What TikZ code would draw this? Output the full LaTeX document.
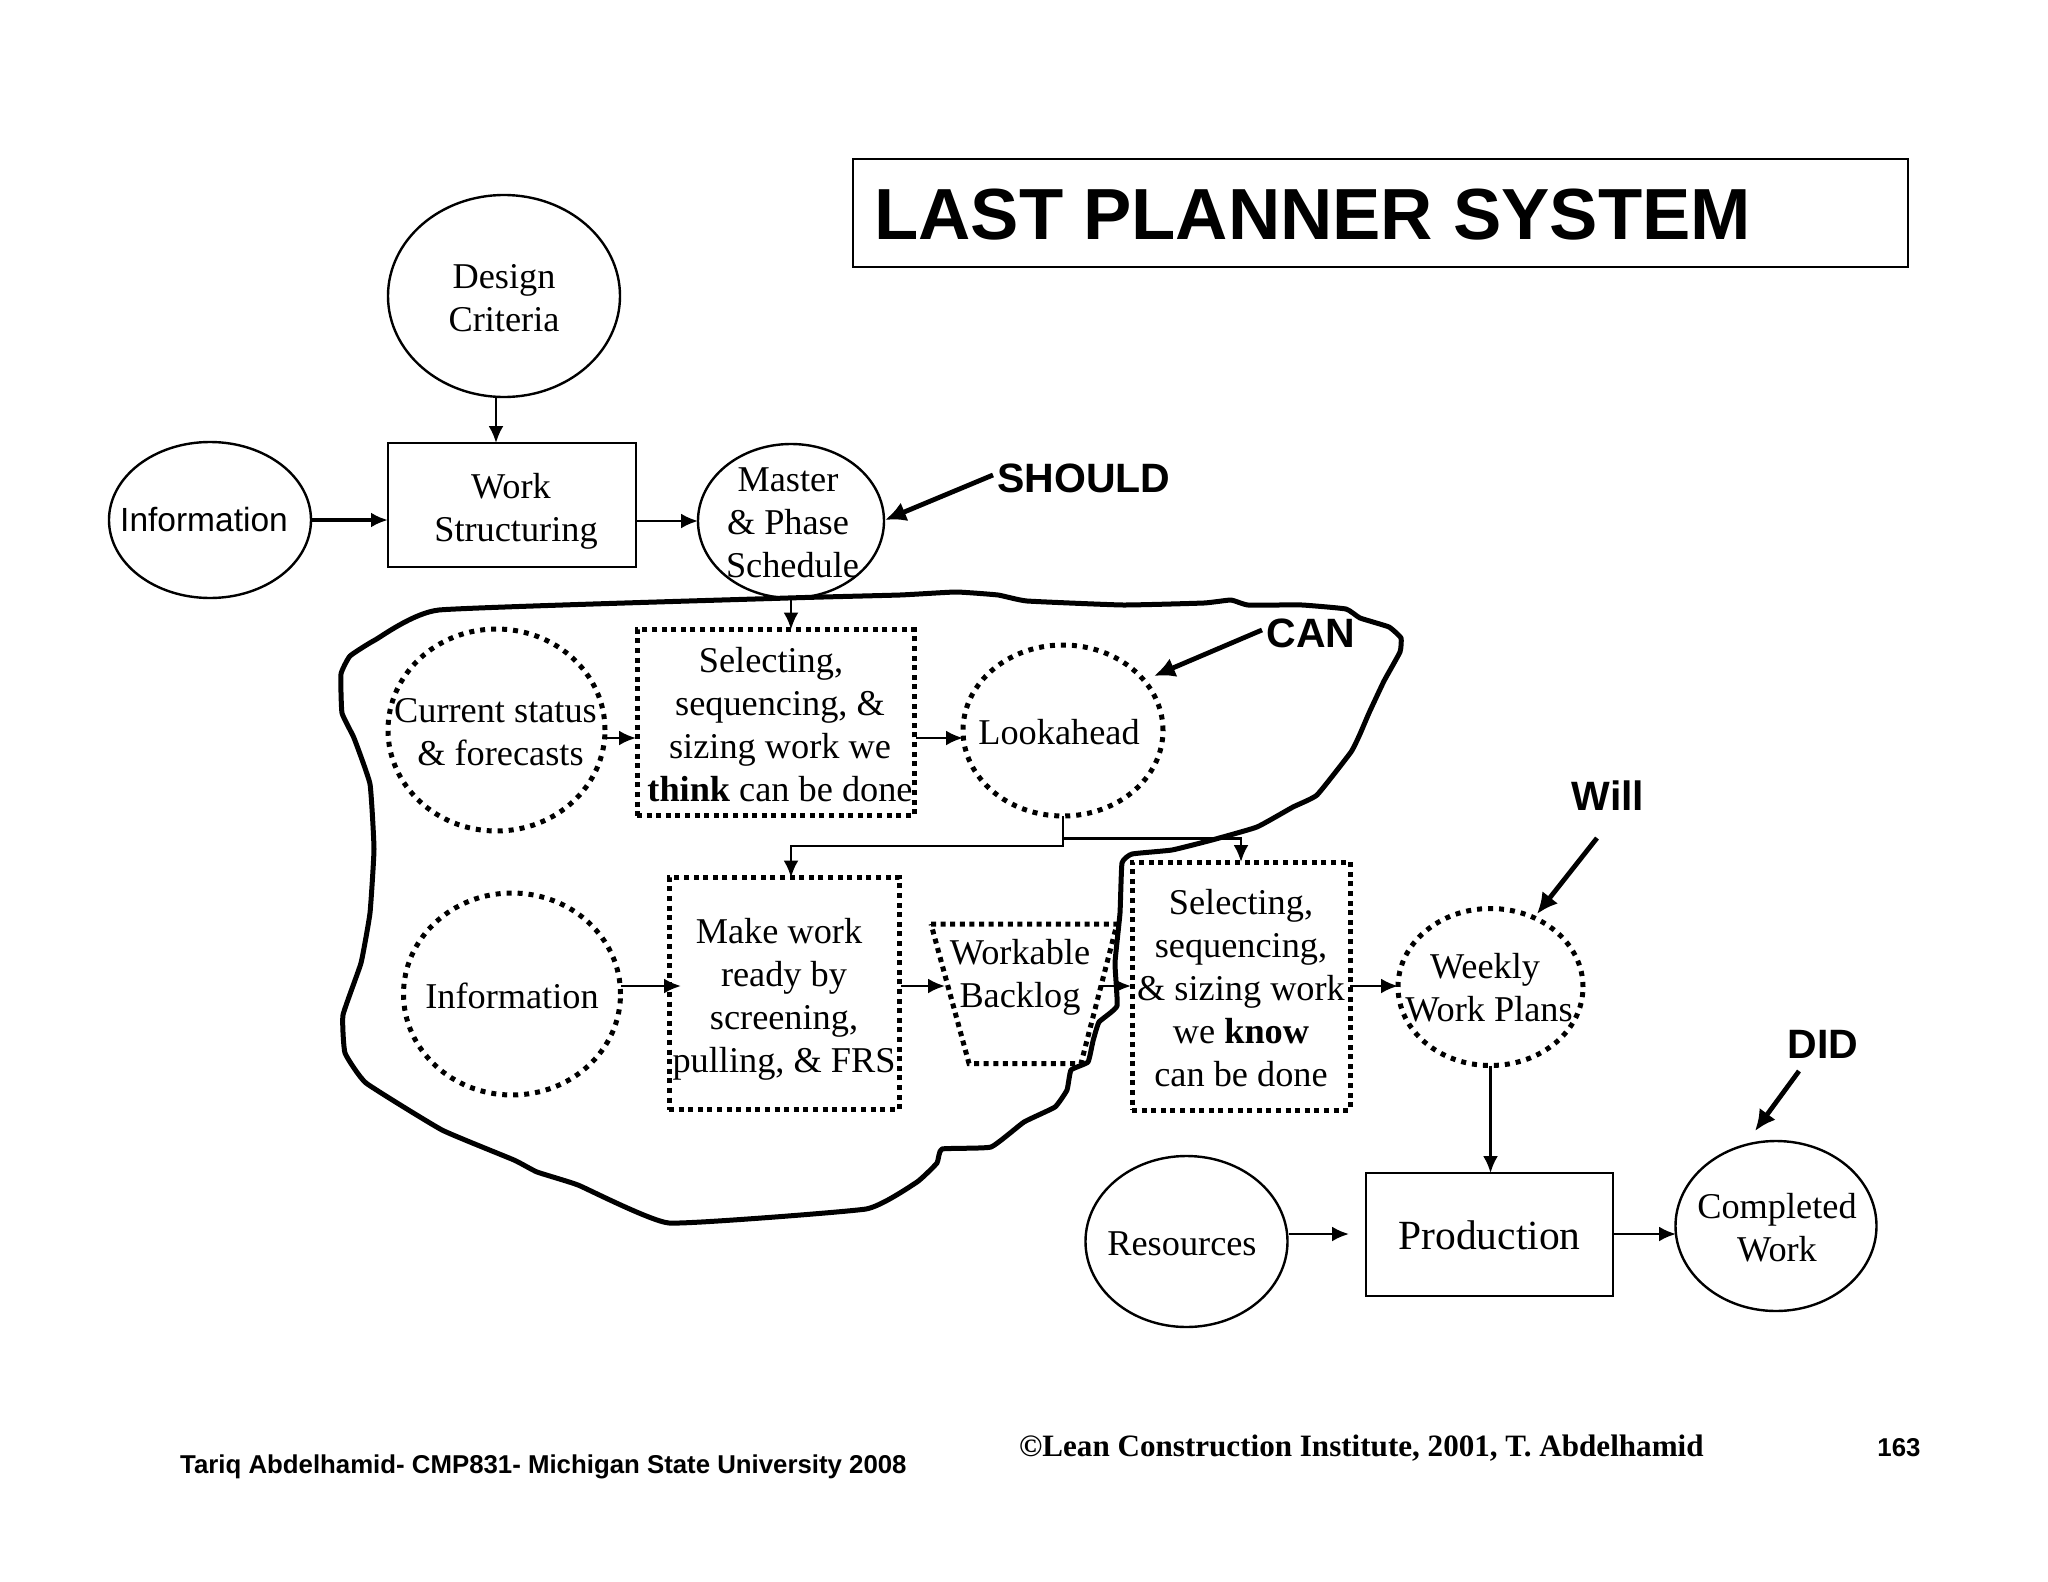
\documentclass[tikz,border=0pt]{standalone}
\usepackage{fontspec}
\setmainfont{Liberation Serif}
\setsansfont{Liberation Sans}
\usetikzlibrary{shapes.geometric,arrows.meta}
\tikzset{
  x=1bp,y=-1bp,
  thinline/.style={draw=black,line width=2.4bp},
  dotline/.style={draw=black,line width=5bp,dash pattern=on 5bp off 4.6bp},
  dotoval/.style={draw=black,line width=5bp,dash pattern=on 5bp off 6bp},
  oval/.style={ellipse,inner sep=0pt,outer sep=0pt},
  box/.style={rectangle,inner sep=0pt,outer sep=0pt},
  arr/.style={draw=black,line width=2.6bp,-{Latex[length=17bp,width=15bp]}},
  heavyarr/.style={draw=black,line width=4.8bp,-{Latex[length=21bp,width=20bp]}},
  txt/.style={align=center,inner sep=0pt,font=\fontsize{36.3bp}{43bp}\selectfont},
  sanstxt/.style={inner sep=0pt,font=\sffamily\fontsize{33.5bp}{40bp}\selectfont},
  callout/.style={inner sep=0pt,font=\sffamily\bfseries\fontsize{41bp}{48bp}\selectfont},
}
\begin{document}
\begin{tikzpicture}
\useasboundingbox[fill=white] (0,0) rectangle (2048,1582);
% title
\node[box,thinline,minimum width=1055bp,minimum height=108bp] (titlebox) at (1380.5,213) {};
\node[anchor=west,inner sep=0pt,font=\sffamily\bfseries\fontsize{72.4bp}{80bp}\selectfont] (titletext) at (874,215) {LAST PLANNER SYSTEM};
% solid shapes
\node[oval,thinline,minimum width=232bp,minimum height=202bp] (design) at (504,296) {};
\node[oval,thinline,minimum width=202bp,minimum height=156bp] (info) at (210,520) {};
\node[box,thinline,minimum width=248bp,minimum height=124bp] (work) at (512,505) {};
\node[oval,thinline,minimum width=186bp,minimum height=154bp] (master) at (791,521) {};
\node[oval,thinline,minimum width=202bp,minimum height=171bp] (resources) at (1186.5,1241.5) {};
\node[box,thinline,minimum width=247bp,minimum height=123bp] (production) at (1489.5,1234.5) {};
\node[oval,thinline,minimum width=201bp,minimum height=170bp] (completed) at (1776,1226) {};
% dotted shapes
\node[oval,dotoval,minimum width=217bp,minimum height=202bp] (current) at (496.5,730) {};
\node[box,dotline,minimum width=277bp,minimum height=186bp] (select) at (775.5,722.5) {};
\node[oval,dotoval,minimum width=200bp,minimum height=171bp] (lookahead) at (1063,730.5) {};
\node[oval,dotoval,minimum width=217bp,minimum height=202bp] (infotwo) at (512,994) {};
\node[box,dotline,minimum width=230bp,minimum height=232bp] (make) at (784,993.5) {};
\node[box,dotline,minimum width=218bp,minimum height=248bp] (selecttwo) at (1241,986) {};
\node[oval,dotoval,minimum width=185bp,minimum height=157bp] (weekly) at (1490.5,987) {};
\coordinate (blTL) at (931,924);
\coordinate (blTR) at (1117,924);
\coordinate (blBR) at (1081,1063.5);
\coordinate (blBL) at (969,1063.5);
\draw[dotline] (blTL) -- (blTR) -- (blBR) -- (blBL) -- cycle;
% texts
\node[txt] (designt) at (504,298) {Design\\Criteria};
\node[sanstxt] (infot) at (204,520) {Information};
\node[txt] (workt) at (516,511) {Work\hspace*{10bp}\\Structuring};
\node[txt] (mastert) at (788,523) {Master\\\& Phase\\\ Schedule};
\node[txt] (currentt) at (497,732) {Current status\hspace*{3bp}\\\hspace*{7bp}\& forecasts};
\node[txt] (selectt) at (780,725) {Selecting,\hspace*{18bp}\\sequencing, \&\hspace*{12bp}\\sizing work we\\\textbf{think} can be done};
\node[txt] (lookaheadt) at (1059,732) {Lookahead};
\node[txt] (infotwot) at (512,996) {Information};
\node[txt] (maket) at (784,999) {Make work\hspace*{10bp}\\ready by\hspace*{10bp}\\screening,\hspace*{6bp}\\pulling, \& FRS};
\node[txt] (backlogt) at (1020,977) {Workable\\Backlog};
\node[txt] (selecttwot) at (1241,988) {Selecting,\\sequencing,\\\& sizing work\\we \textbf{know}\\can be done};
\node[txt] (weeklyt) at (1489,988) {Weekly\hspace*{8bp}\\Work Plans};
\node[txt] (resourcest) at (1182,1244) {Resources};
\node[txt,font=\fontsize{41.5bp}{48bp}\selectfont] (productiont) at (1489.5,1235) {Production};
\node[txt] (completedt) at (1777,1228) {Completed\\Work};
% callouts
\node[callout] (should) at (1084,478) {SHOULD};
\node[callout] (can) at (1311,633) {CAN};
\node[callout] (will) at (1608,796) {Will};
\node[callout] (did) at (1823,1044) {DID};
% footers
\node[inner sep=0pt,anchor=west,font=\sffamily\bfseries\fontsize{25.8bp}{28bp}\selectfont] (footl) at (180,1466.5) {Tariq Abdelhamid- CMP831- Michigan State University 2008};
\node[inner sep=0pt,anchor=west,font=\bfseries\fontsize{31.1bp}{34bp}\selectfont] (footc) at (1019,1448.5) {©Lean Construction Institute, 2001, T. Abdelhamid};
\node[inner sep=0pt,font=\sffamily\bfseries\fontsize{25.8bp}{28bp}\selectfont] (footr) at (1899,1448) {163};
% connectors
\draw[arr] ([xshift=-8bp]design.south) -- ([xshift=-8bp]design.south |- work.north);
\draw[draw=black,line width=4bp,-{Latex[length=17bp,width=15bp]}] (info.east) -- (info.east -| work.west);
\draw[arr] (master.west -| work.east) -- (master.west);
\draw[arr] (master.south) -- (master.south |- select.north);
\coordinate (currentout) at (605,738);
\coordinate (selectin) at (636,738);
\draw[arr] (currentout) -- (selectin);
\coordinate (selectout) at (916,738);
\coordinate (lookin) at (963,738);
\draw[arr] (selectout) -- (lookin);
\coordinate (turnleft) at (1063,846);
\coordinate (turnright) at (1063,838.5);
\draw[arr] (lookahead.south) -- (turnleft) -| (master.south |- make.north);
\draw[arr] (turnright) -| (selecttwo.north);
\coordinate (infoout) at (621,986);
\coordinate (makein) at (681,986);
\draw[arr] (infoout) -- (makein);
\coordinate (makeout) at (901,986);
\coordinate (blin) at (945,986);
\draw[arr] (makeout) -- (blin);
\coordinate (blout) at (1099,986);
\coordinate (stwoin) at (1131,986);
\draw[arr] (blout) -- (stwoin);
\coordinate (stwoout) at (1350,986);
\coordinate (weekin) at (1398,986);
\draw[arr] (stwoout) -- (weekin);
\draw[arr] (weekly.south) -- (weekly.south |- production.north);
\coordinate (resout) at (1289,1234);
\coordinate (prodin) at (1349,1234);
\draw[arr] (resout) -- (prodin);
\coordinate (prodout) at (1613,1234);
\coordinate (compin) at (1676,1234);
\draw[arr] (prodout) -- (compin);
% callout arrows
\coordinate (shoulds) at (993,475);
\coordinate (shoulde) at (885,520);
\draw[heavyarr] (shoulds) -- (shoulde);
\coordinate (cans) at (1262,630);
\coordinate (cane) at (1154,676);
\draw[heavyarr] (cans) -- (cane);
\coordinate (wills) at (1597,838);
\coordinate (wille) at (1537,914);
\draw[heavyarr] (wills) -- (wille);
\coordinate (dids) at (1799,1071);
\coordinate (dide) at (1755,1131);
\draw[heavyarr] (dids) -- (dide);
% boundary of the "CAN" region
\draw[black,line width=5bp,line join=round] plot[smooth cycle,tension=0.22] coordinates {
(439,610)(788,598)(900,595)(956,592)(998,595)(1027,601)(1123,605)(1204,603)(1231,600)(1248,605)(1302,605)(1346,609)(1360,618)(1389,627)(1401,638)(1400,652)(1384,681)(1369,713)(1360,734)(1351,752)(1317,795)(1293,807)(1257,827)(1212,840)(1172,850)(1132,854)(1122,863)(1120,913)(1115,963)(1117,1006)(1099,1022)(1093,1041)(1088,1062)(1071,1070)(1067,1090)(1055,1107)(1024,1122)(991,1147)(942,1149)(937,1163)(917,1182)(866,1209)(669,1223)(578,1185)(537,1172)(514,1160)(442,1130)(366,1083)(345,1053)(343,1015)(361,963)(370,913)(374,849)(370,784)(354,738)(342,713)(341,674)(350,656)(375,640)};
\end{tikzpicture}
\end{document}
